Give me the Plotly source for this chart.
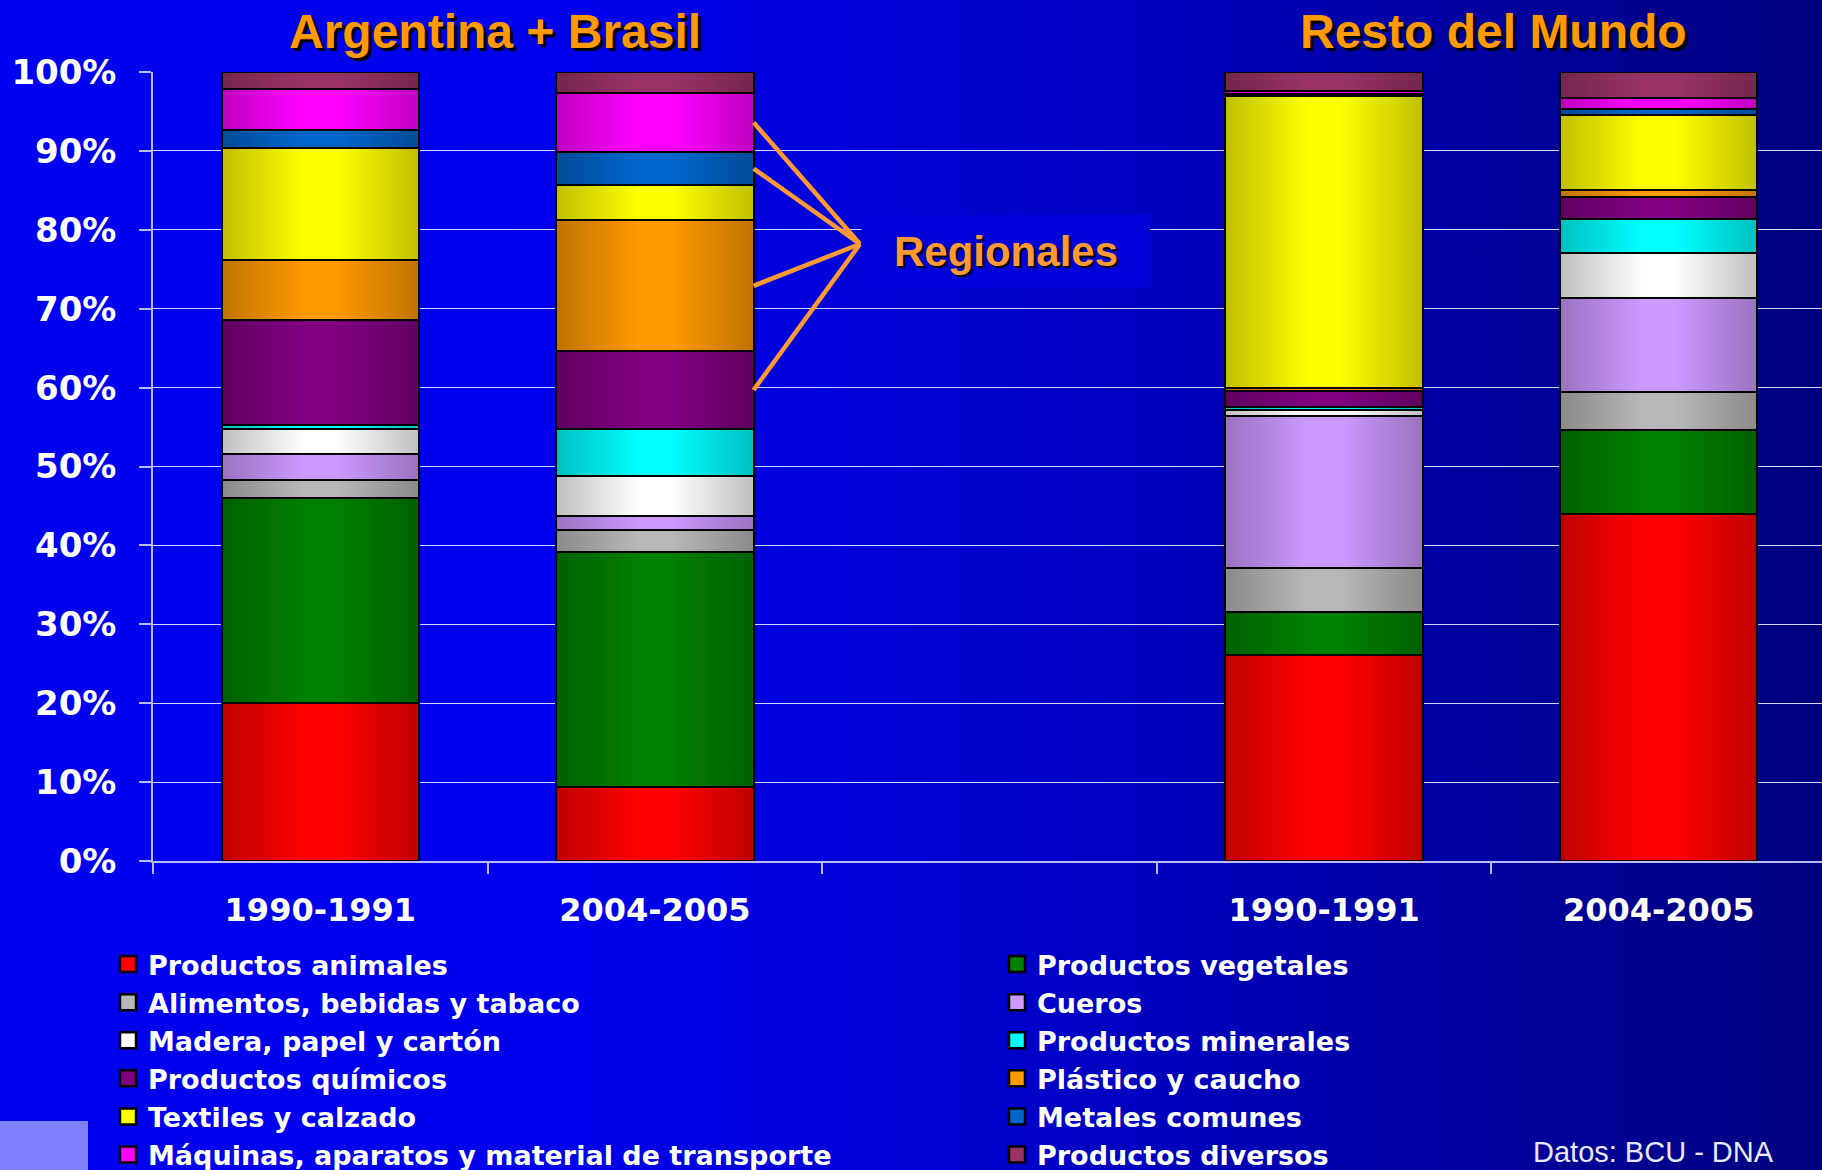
import base64
import plotly.graph_objects as go

# ---------------- data ----------------
regions = ["Argentina + Brasil", "Resto del Mundo"]
periods = ["1990-1991", "2004-2005"]
# column order: AB 1990-1991, AB 2004-2005, RdM 1990-1991, RdM 2004-2005
sectors = [
    "Productos animales", "Productos vegetales", "Alimentos, bebidas y tabaco", "Cueros",
    "Madera, papel y cartón", "Productos minerales", "Productos químicos", "Plástico y caucho",
    "Textiles y calzado", "Metales comunes", "Máquinas, aparatos y material de transporte",
    "Productos diversos",
]
animales = [20.0, 9.4, 26.1, 44.0]
vegetales = [26.0, 29.8, 5.4, 10.6]
alimentos = [2.3, 2.8, 5.6, 4.9]
cueros = [3.3, 1.7, 19.3, 11.9]
madera = [3.2, 5.1, 0.8, 5.6]
minerales = [0.4, 6.0, 0.4, 4.4]
quimicos = [13.4, 9.8, 2.0, 2.8]
plastico = [7.6, 16.6, 0.3, 0.9]
textiles = [14.2, 4.5, 37.0, 9.4]
metales = [2.3, 4.1, 0.3, 0.8]
maquinas = [5.1, 7.6, 0.4, 1.4]
diversos = [2.2, 2.6, 2.4, 3.3]
series = [animales, vegetales, alimentos, cueros, madera, minerales,
          quimicos, plastico, textiles, metales, maquinas, diversos]
regional_sectors = ["Máquinas, aparatos y material de transporte", "Metales comunes",
                    "Plástico y caucho", "Productos químicos"]
y_ticks = list(range(0, 101, 10))

# ---------------- style ----------------
colors = ["#FF0000", "#008000", "#B8B8B8", "#CC99FF", "#FFFFFF", "#00FFFF",
          "#800080", "#FF9900", "#FFFF00", "#0066CC", "#FF00FF", "#993366"]
W, H = 1822, 1170
ML, MR, MT, MB = 153, 0, 72, 309
PW, PH = W - ML - MR, H - MT - MB
BAR_W = 0.59
AXC = "rgba(205,205,255,0.9)"
GRIDC = "rgba(235,235,255,0.9)"
BOLD = "DejaVu Sans"
ARIAL = "Liberation Sans, Arial, sans-serif"


def px_x(px):
    return (px - ML) / PW


def px_y(px):
    return (H - MB - px) / PH


def svg_uri(svg):
    return "data:image/svg+xml;base64," + base64.b64encode(svg.encode()).decode()


# slot positions: two periods per region, one empty slot between regions
xpos, xlab = [], []
for r, reg in enumerate(regions):
    for p, per in enumerate(periods):
        xpos.append(r * (len(periods) + 1) + p)
        xlab.append(per)
n_slots = len(regions) * (len(periods) + 1) - 1
bounds = [i - 0.5 for i in range(n_slots + 1)]

fig = go.Figure()
for name, vals, col in zip(sectors, series, colors):
    fig.add_trace(go.Bar(
        x=xpos, y=vals, name=name, legendgroup=name, showlegend=False,
        width=BAR_W, marker=dict(color=col, line=dict(color="black", width=2.2)),
        hovertemplate="%{y:.1f}%<extra>" + name + "</extra>",
    ))
# legend proxies (bigger square symbols), two columns as two legends
for i, (name, col) in enumerate(zip(sectors, colors)):
    fig.add_trace(go.Scatter(
        x=[None], y=[None], mode="markers", name=name, legendgroup=name,
        legend="legend" if i % 2 == 0 else "legend2",
        marker=dict(symbol="square", size=16, color=col, line=dict(color="black", width=2.5)),
    ))

# cylinder-like horizontal shading over each bar (dark edges, bright centre)
shade = svg_uri(
    '<svg xmlns="http://www.w3.org/2000/svg" width="100" height="100" viewBox="0 0 100 100" '
    'preserveAspectRatio="none"><defs><linearGradient id="s" x1="0" y1="0" x2="1" y2="0">'
    '<stop offset="0" stop-color="#000" stop-opacity="0.25"/>'
    '<stop offset="0.42" stop-color="#000" stop-opacity="0"/>'
    '<stop offset="0.58" stop-color="#000" stop-opacity="0"/>'
    '<stop offset="1" stop-color="#000" stop-opacity="0.25"/>'
    '</linearGradient></defs><rect width="100" height="100" fill="url(#s)"/></svg>')
totals = [sum(s[k] for s in series) for k in range(len(xpos))]
for xp, tot in zip(xpos, totals):
    fig.add_layout_image(source=shade, xref="x", yref="y", x=xp - BAR_W / 2, y=tot,
                         sizex=BAR_W, sizey=tot, sizing="stretch", xanchor="left",
                         yanchor="top", layer="above", opacity=1)

# ---------------- "Regionales" connector lines ----------------
col_idx = 1  # Argentina + Brasil 2004-2005
hub_x, hub_y = 1.613, 78.2
cum = 0.0
mids = {}
for name, vals in zip(sectors, series):
    mids[name] = cum + vals[col_idx] / 2
    cum += vals[col_idx]
for name in regional_sectors:
    fig.add_shape(type="line", xref="x", yref="y",
                  x0=xpos[col_idx] + BAR_W / 2, y0=mids[name], x1=hub_x, y1=hub_y,
                  line=dict(color="#FF9933", width=4.5), layer="above")

fig.add_annotation(x=px_x(1006), y=px_y(251), xref="paper", yref="paper", text="Regionales",
                   xanchor="center", yanchor="middle",
                   showarrow=False, width=286, height=70, bgcolor="rgb(0,0,216)",
                   font=dict(family=ARIAL, size=42, color="#FF9933", weight="bold",
                             shadow="2px 2px 1px #000000"))

# region titles
title_xshift = [7, 2]
for r, reg in enumerate(regions):
    cx = sum(xpos[r * len(periods):(r + 1) * len(periods)]) / len(periods)
    fig.add_annotation(x=cx, y=px_y(31), xref="x", yref="paper", text=reg,
                       showarrow=False, xanchor="center", yanchor="middle",
                       xshift=title_xshift[r],
                       font=dict(family=ARIAL, size=48, color="#FF9900", weight="bold",
                                 shadow="3px 3px 1px #000000"))

# source note
fig.add_annotation(x=px_x(1531), y=px_y(1134), xref="paper", yref="paper",
                   xanchor="left", yanchor="top", text="Datos: BCU - DNA", showarrow=False,
                   font=dict(family=ARIAL, size=29, color="#E8E8FF"))

# logo box bottom-left
fig.add_shape(type="rect", xref="paper", yref="paper",
              x0=px_x(0), x1=px_x(88), y0=px_y(H), y1=px_y(1121),
              fillcolor="rgb(128,128,255)", line=dict(width=0), layer="below")

# background gradient as svg image
bg = svg_uri(
    '<svg xmlns="http://www.w3.org/2000/svg" width="1822" height="1170">'
    '<defs><linearGradient id="g" x1="0" y1="0" x2="1" y2="0">'
    '<stop offset="0" stop-color="rgb(0,0,240)"/>'
    '<stop offset="0.32" stop-color="rgb(0,0,236)"/>'
    '<stop offset="0.6" stop-color="rgb(0,0,196)"/>'
    '<stop offset="1" stop-color="rgb(0,0,126)"/>'
    '</linearGradient></defs><rect width="1822" height="1170" fill="url(#g)"/></svg>')
fig.add_layout_image(source=bg, xref="paper", yref="paper", x=px_x(0), y=px_y(0),
                     sizex=W / PW, sizey=H / PH, sizing="stretch", xanchor="left",
                     yanchor="top", layer="below", opacity=1)

legend_font = dict(family=BOLD, size=27, color="white", weight="bold")
fig.update_layout(
    width=W, height=H, autosize=False,
    margin=dict(l=ML, r=MR, t=MT, b=MB, pad=0, autoexpand=False),
    barmode="stack", bargap=0,
    paper_bgcolor="rgb(0,0,200)", plot_bgcolor="rgba(0,0,0,0)",
    showlegend=True,
    legend=dict(orientation="v", x=px_x(108), y=px_y(940), xanchor="left", yanchor="top",
                traceorder="normal", itemsizing="trace", bgcolor="rgba(0,0,0,0)",
                font=legend_font),
    legend2=dict(orientation="v", x=px_x(997), y=px_y(940), xanchor="left", yanchor="top",
                 traceorder="normal", itemsizing="trace", bgcolor="rgba(0,0,0,0)",
                 font=legend_font),
    xaxis=dict(range=[bounds[0], bounds[-1] - 0.012], tickmode="array", tickvals=xpos,
               ticktext=xlab, ticks="", showgrid=False, zeroline=False,
               showline=True, linecolor=AXC, linewidth=1.5,
               ticklabelstandoff=20,
               tickfont=dict(family=BOLD, size=32, color="white", weight="bold"),
               minor=dict(tickmode="array", tickvals=bounds, ticks="outside", ticklen=11,
                          tickcolor=AXC, tickwidth=1.5, showgrid=False)),
    yaxis=dict(range=[0, 100], tickmode="array", tickvals=y_ticks,
               ticktext=[f"{v}%" for v in y_ticks], ticks="outside", ticklen=12,
               tickcolor=AXC, tickwidth=1.5, showgrid=True, gridcolor=GRIDC, gridwidth=1.2,
               zeroline=False, showline=True, linecolor=AXC, linewidth=1.5,
               ticklabelstandoff=16,
               tickfont=dict(family=BOLD, size=34, color="white", weight="bold")),
)

fig.write_html("out.html", config={"displayModeBar": False},
               post_script="document.body.style.margin='0';document.body.style.overflow='hidden';")
